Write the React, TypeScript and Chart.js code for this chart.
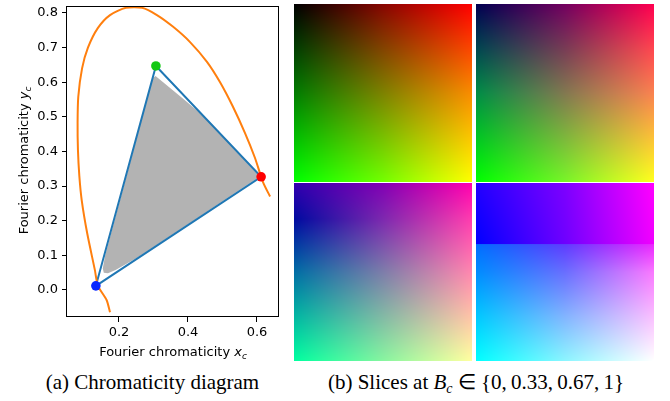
import React, { useEffect, useRef } from 'react';
import { Chart, registerables } from 'chart.js';

Chart.register(...registerables);

// ---------- data (left panel) ----------
const locusX = [0.174, 0.164, 0.139, 0.130, 0.108, 0.092, 0.085, 0.081, 0.080, 0.082, 0.093, 0.110, 0.139, 0.174, 0.220, 0.267, 0.310, 0.357, 0.406, 0.455, 0.493, 0.530, 0.565, 0.594, 0.618, 0.638];
const locusY = [-0.064, -0.029, 0.012, 0.058, 0.163, 0.259, 0.330, 0.405, 0.483, 0.558, 0.640, 0.700, 0.757, 0.794, 0.815, 0.815, 0.794, 0.760, 0.716, 0.659, 0.600, 0.530, 0.454, 0.382, 0.310, 0.270];

const primaryNames = ['G', 'R', 'B'];
const primaryX = [0.307, 0.612, 0.133];
const primaryY = [0.647, 0.327, 0.012];
const primaryColors = ['#14c814', '#ff0000', '#0a28ff'];

const gamutX = [0.306, 0.328, 0.357, 0.386, 0.415, 0.444, 0.520, 0.600, 0.604, 0.400, 0.250, 0.190, 0.168, 0.156, 0.153, 0.160, 0.226, 0.298];
const gamutY = [0.618, 0.600, 0.576, 0.552, 0.528, 0.504, 0.423, 0.337, 0.325, 0.190, 0.092, 0.058, 0.048, 0.050, 0.062, 0.100, 0.345, 0.612];

const xTicks = [0.2, 0.4, 0.6];
const yTicks = [0.0, 0.1, 0.2, 0.3, 0.4, 0.5, 0.6, 0.7, 0.8];
const xRange = [0.0493, 0.6638];
const yRange = [-0.078, 0.8202];

// ---------- data (right panel) ----------
const sliceB = [0, 0.33, 0.67, 1];
const sliceCols = [0, 0.5, 1];
const sliceRows = [
  [0, 0.5, 1],
  [0, 0.25, 0.5, 1],
  [0, 0.2, 0.5, 1],
  [0, 0.34, 0.345, 0.5, 0.75, 1],
];
const sliceColors: number[][][][] = [
  [
    [[0, 0, 0], [135, 5, 0], [255, 0, 0]],
    [[0, 125, 0], [125, 130, 0], [250, 140, 0]],
    [[0, 255, 0], [115, 255, 0], [255, 255, 0]],
  ],
  [
    [[0, 0, 80], [115, 0, 95], [255, 0, 80]],
    [[0, 70, 80], [120, 60, 85], [255, 70, 80]],
    [[0, 140, 70], [130, 120, 80], [250, 130, 80]],
    [[0, 255, 0], [120, 245, 40], [255, 255, 30]],
  ],
  [
    [[50, 0, 175], [130, 0, 180], [255, 0, 175]],
    [[0, 10, 160], [125, 40, 175], [255, 60, 175]],
    [[0, 110, 165], [125, 125, 170], [255, 135, 175]],
    [[0, 255, 160], [135, 245, 160], [255, 255, 160]],
  ],
  [
    [[35, 0, 255], [125, 0, 255], [255, 0, 255]],
    [[0, 0, 255], [110, 0, 255], [240, 0, 255]],
    [[0, 110, 255], [95, 60, 255], [235, 40, 255]],
    [[0, 140, 255], [105, 110, 255], [250, 120, 255]],
    [[0, 200, 255], [130, 180, 255], [250, 190, 255]],
    [[0, 255, 255], [140, 245, 255], [255, 255, 255]],
  ],
];

const toPts = (xs: number[], ys: number[]) => xs.map((x, i) => ({ x, y: ys[i] }));

function locate(pos: number[], t: number): [number, number] {
  for (let k = 0; k < pos.length - 1; k++) {
    if (t <= pos[k + 1] || k === pos.length - 2) {
      const f = (t - pos[k]) / (pos[k + 1] - pos[k]);
      return [k, Math.max(0, Math.min(1, f))];
    }
  }
  return [0, 0];
}

function sampleSlice(i: number, u: number, v: number): number[] {
  const [ck, cf] = locate(sliceCols, u);
  const [rk, rf] = locate(sliceRows[i], v);
  const g = sliceColors[i];
  const out = [0, 0, 0];
  for (let c = 0; c < 3; c++) {
    const a = g[rk][ck][c] + (g[rk][ck + 1][c] - g[rk][ck][c]) * cf;
    const b = g[rk + 1][ck][c] + (g[rk + 1][ck + 1][c] - g[rk + 1][ck][c]) * cf;
    out[c] = a + (b - a) * rf;
  }
  return out;
}

const FONT = '"DejaVu Sans", sans-serif';

function drawMixed(ctx: CanvasRenderingContext2D, parts: { t: string; f: string; dy: number }[], cx: number, by: number) {
  let total = 0;
  for (const p of parts) { ctx.font = p.f; total += ctx.measureText(p.t).width; }
  let x = cx - total / 2;
  ctx.textAlign = 'left';
  ctx.textBaseline = 'alphabetic';
  ctx.fillStyle = '#000';
  for (const p of parts) {
    ctx.font = p.f;
    ctx.fillText(p.t, x, by + p.dy);
    x += ctx.measureText(p.t).width;
  }
}

const titleParts = (v: string) => [
  { t: 'Fourier chromaticity ', f: `13px ${FONT}`, dy: 0 },
  { t: v, f: `italic 13px ${FONT}`, dy: 0 },
  { t: 'c', f: `italic 9px ${FONT}`, dy: 3 },
];

const framePlugin = {
  id: 'frameAndTitles',
  afterDraw(chart: any) {
    const { ctx, chartArea: a } = chart;
    ctx.save();
    ctx.strokeStyle = '#000';
    ctx.lineWidth = 1;
    ctx.strokeRect(Math.round(a.left) - 0.5, Math.round(a.top) + 0.5, Math.round(a.right - a.left), Math.round(a.bottom - a.top) - 1);
    drawMixed(ctx, titleParts('x'), (a.left + a.right) / 2, 356);
    ctx.translate(28, (a.top + a.bottom) / 2 - 1);
    ctx.rotate(-Math.PI / 2);
    drawMixed(ctx, titleParts('y'), 0, 0);
    ctx.restore();
  },
};

const slicePlugin = {
  id: 'slices',
  beforeDatasetsDraw(chart: any) {
    const { ctx, scales } = chart;
    const xs = scales.x, ys = scales.y;
    const midX = Math.round(xs.getPixelForValue(1));
    const midY = Math.round(ys.getPixelForValue(1));
    sliceB.forEach((_b, i) => {
      const col = i % 2, row = Math.floor(i / 2);
      let l = Math.round(xs.getPixelForValue(col));
      let r = Math.round(xs.getPixelForValue(col + 1));
      let t = Math.round(ys.getPixelForValue(2 - row));
      let b = Math.round(ys.getPixelForValue(1 - row));
      if (col === 0) r = midX - 2; else l = midX + 2;
      if (row === 0) b = midY - 1; else t = midY;
      const w = r - l, h = b - t;
      const img = ctx.createImageData(w, h);
      for (let py = 0; py < h; py++) {
        const v = py / (h - 1);
        for (let px = 0; px < w; px++) {
          const u = px / (w - 1);
          const c = sampleSlice(i, u, v);
          const k = (py * w + px) * 4;
          img.data[k] = c[0];
          img.data[k + 1] = c[1];
          img.data[k + 2] = c[2];
          img.data[k + 3] = 255;
        }
      }
      ctx.putImageData(img, l, t);
    });
  },
};

function LeftChart() {
  const ref = useRef<HTMLCanvasElement>(null);
  useEffect(() => {
    const tickFmt = (v: any) => Math.abs(Number(v)).toFixed(1) === '0.0' ? '0.0' : Number(v).toFixed(1);
    const chart = new Chart(ref.current as HTMLCanvasElement, {
      type: 'scatter',
      data: {
        datasets: [
          {
            label: 'primaries',
            data: toPts(primaryX, primaryY),
            pointRadius: 4.8,
            pointBackgroundColor: primaryColors,
            pointBorderWidth: 0,
            pointBorderColor: primaryColors,
            showLine: false,
            order: 0,
          } as any,
          {
            label: 'locus',
            data: toPts(locusX, locusY),
            showLine: true,
            borderColor: '#ff7f0e',
            borderWidth: 2,
            tension: 0.25,
            pointRadius: 0,
            fill: false,
            order: 1,
          },
          {
            label: 'triangle',
            data: toPts([...primaryX, primaryX[0]], [...primaryY, primaryY[0]]),
            showLine: true,
            borderColor: '#1f77b4',
            borderWidth: 2,
            pointRadius: 0,
            fill: false,
            order: 2,
          },
          {
            label: 'gamut',
            data: toPts([...gamutX, gamutX[0]], [...gamutY, gamutY[0]]),
            showLine: true,
            borderColor: '#b3b3b3',
            borderWidth: 0.01,
            backgroundColor: '#b3b3b3',
            fill: 'shape',
            pointRadius: 0,
            order: 3,
          } as any,
        ],
      },
      options: {
        animation: false,
        responsive: false,
        events: [],
        layout: { padding: { left: 0, top: 6, right: 11, bottom: 0 } },
        plugins: { legend: { display: false }, tooltip: { enabled: false } },
        scales: {
          x: {
            type: 'linear',
            min: xRange[0],
            max: xRange[1],
            afterBuildTicks: (s: any) => { s.ticks = xTicks.map((value) => ({ value })); },
            afterFit: (s: any) => { s.height = 53; s.paddingLeft = 0; s.paddingRight = 0; },
            border: { display: false },
            grid: { drawOnChartArea: false, drawTicks: true, tickLength: 5, color: '#000', lineWidth: 1 },
            ticks: { color: '#000', font: { family: FONT, size: 13 }, padding: 3, maxRotation: 0, callback: tickFmt },
          },
          y: {
            type: 'linear',
            min: yRange[0],
            max: yRange[1],
            afterBuildTicks: (s: any) => { s.ticks = yTicks.map((value) => ({ value })); },
            afterFit: (s: any) => { s.width = 67; s.paddingTop = 0; s.paddingBottom = 0; },
            border: { display: false },
            grid: { drawOnChartArea: false, drawTicks: true, tickLength: 5, color: '#000', lineWidth: 1 },
            ticks: { color: '#000', font: { family: FONT, size: 13 }, padding: 4, callback: tickFmt },
          },
        },
      },
      plugins: [framePlugin],
    } as any);
    return () => chart.destroy();
  }, []);
  return <canvas ref={ref} width={290} height={370} style={{ position: 'absolute', left: 0, top: 0, width: 290, height: 370 }} />;
}

function RightChart() {
  const ref = useRef<HTMLCanvasElement>(null);
  useEffect(() => {
    const chart = new Chart(ref.current as HTMLCanvasElement, {
      type: 'scatter',
      data: { datasets: [{ label: 'B_c slices', data: sliceB.map((b, i) => ({ x: (i % 2) + 0.5, y: 1.5 - Math.floor(i / 2) })), pointRadius: 0 }] },
      options: {
        animation: false,
        responsive: false,
        events: [],
        layout: { padding: 0 },
        plugins: { legend: { display: false }, tooltip: { enabled: false } },
        scales: {
          x: { type: 'linear', min: 0, max: 2, display: false },
          y: { type: 'linear', min: 0, max: 2, display: false },
        },
      },
      plugins: [slicePlugin],
    } as any);
    return () => chart.destroy();
  }, []);
  return <canvas ref={ref} width={360} height={357} style={{ position: 'absolute', left: 294, top: 4, width: 360, height: 357 }} />;
}

const capStyle: React.CSSProperties = {
  position: 'absolute',
  top: 372,
  fontFamily: '"Liberation Serif", "Times New Roman", serif',
  fontSize: 21,
  lineHeight: '21px',
  textAlign: 'center',
  whiteSpace: 'nowrap',
  color: '#000',
};

export default function App() {
  return (
    <div style={{ position: 'absolute', left: 0, top: 0, width: 670, height: 401, background: '#fff', overflow: 'hidden' }}>
      <LeftChart />
      <RightChart />
      <div style={{ ...capStyle, left: 0, width: 305 }}>(a) Chromaticity diagram</div>
      <div style={{ ...capStyle, left: 276, width: 400 }}>
        (b) Slices at <i>B</i>
        <i style={{ fontSize: 14, position: 'relative', top: 4 }}>c</i>
        {' \u2208 {0,\u20090.33,\u20090.67,\u20091}'}
      </div>
    </div>
  );
}
